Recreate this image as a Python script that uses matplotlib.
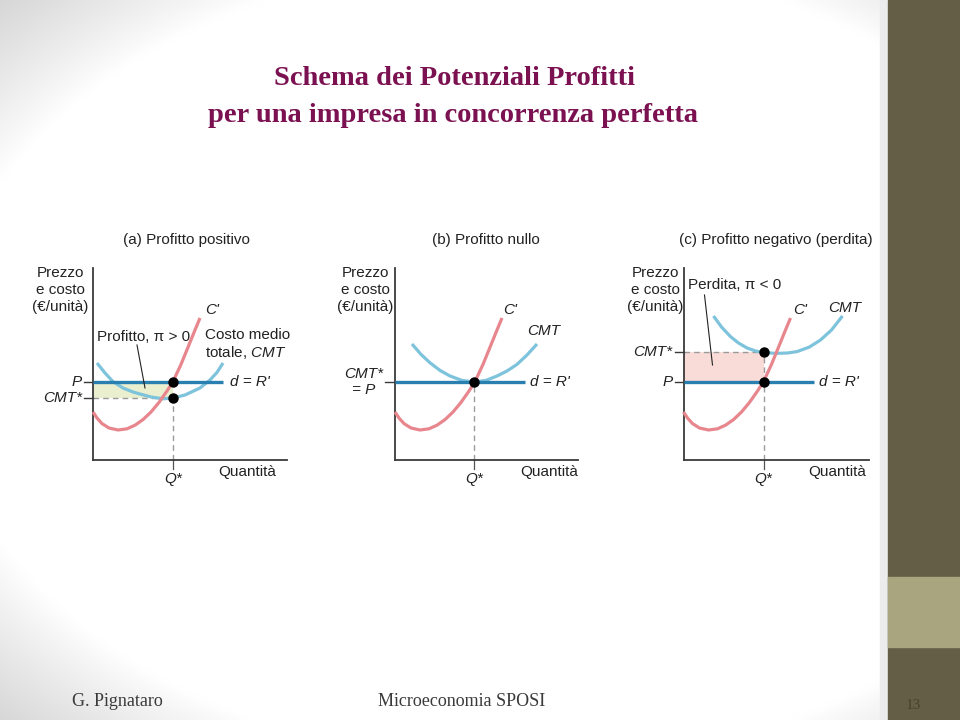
import numpy as np
import matplotlib.pyplot as plt
from matplotlib.patches import Rectangle

plt.rcParams['font.family'] = ['Liberation Sans', 'DejaVu Sans']
plt.rcParams['mathtext.fontset'] = 'custom'
plt.rcParams['mathtext.rm'] = 'Liberation Sans'
plt.rcParams['mathtext.it'] = 'Liberation Sans:italic'

# Marginal cost C' (same curve in all three panels): quantity, cost
cm_q = [0.0, 0.2, 0.45, 0.8, 1.25, 1.7, 2.1, 2.5, 2.9, 3.3, 3.7, 4.0, 4.4, 4.8, 5.1, 5.35]
cm_p = [2.4, 2.1, 1.82, 1.6, 1.5, 1.56, 1.74, 2.02, 2.4, 2.88, 3.45, 3.92, 4.78, 5.76, 6.5, 7.1]

# Average total cost CMT for each panel
cmt_a_q = [0.2, 0.6, 1.0, 1.5, 2.0, 2.35, 2.9, 3.5, 4.0, 4.6, 5.35, 5.85, 6.2, 6.5]
cmt_a_p = [4.85, 4.35, 3.92, 3.6, 3.4, 3.3, 3.15, 3.06, 3.1, 3.25, 3.6, 4.0, 4.38, 4.85]

cmt_b_q = [0.85, 1.3, 1.75, 2.25, 2.75, 3.35, 3.95, 4.55, 5.1, 5.6, 6.1, 6.6, 7.1]
cmt_b_p = [5.8, 5.28, 4.86, 4.48, 4.2, 3.98, 3.9, 3.98, 4.2, 4.45, 4.78, 5.25, 5.8]

cmt_c_q = [1.5, 1.9, 2.35, 2.75, 3.18, 3.6, 4.0, 4.6, 5.2, 5.68, 6.3, 6.85, 7.4, 7.95]
cmt_c_p = [7.2, 6.65, 6.17, 5.85, 5.6, 5.45, 5.38, 5.33, 5.35, 5.42, 5.65, 6.0, 6.5, 7.2]

price = 3.9          # P = d = R'
q_star = [4.0, 3.95, 4.0]
cmt_star_a = 3.1
cmt_star_c = 5.38
d_end = 6.5

titles = ['(a) Profitto positivo', '(b) Profitto nullo', '(c) Profitto negativo (perdita)']

RED = '#e8868e'
LBLUE = '#7ec3dc'
DBLUE = '#2a7fb1'
TXT = '#222222'
GREY = '#9a9a9a'

fig = plt.figure(figsize=(9.6, 7.2), dpi=100)

# slide background: white, greying towards the left corners
bg = fig.add_axes([0, 0, 1, 1], zorder=-10)
yy, xx = np.mgrid[0:720:4, 0:960:4]
d = np.sqrt(((xx - 520) / 520.0) ** 2 + ((yy - 360) / 360.0) ** 2)
shade = 1 - 0.16 * np.clip((d - 1.12) / 0.3, 0, 1) ** 0.9
bg.imshow(np.dstack([shade] * 3), extent=[0, 960, 720, 0], aspect='auto', interpolation='bilinear')
bg.set_xlim(0, 960)
bg.set_ylim(720, 0)
bg.axis('off')

# white picture area, right colour band
bg.add_patch(Rectangle((33, 222), 845, 270, color='white', zorder=2))
bg.add_patch(Rectangle((880, 0), 8, 720, color='#ececec', zorder=2))
bg.add_patch(Rectangle((888, 0), 72, 720, color='#655e47', zorder=3))
bg.add_patch(Rectangle((888, 577), 72, 70, color='#a9a57f', zorder=4))

# slide title and footer
title_kw = dict(ha='center', va='baseline', fontsize=20.5, fontweight='bold',
                color='#7b1151', family='Liberation Serif')
fig.text(455 / 960, 1 - 85 / 720, 'Schema dei Potenziali Profitti', **title_kw)
fig.text(453 / 960, 1 - 122 / 720, 'per una impresa in concorrenza perfetta', **title_kw)
foot_kw = dict(va='baseline', fontsize=13, color='#3a3a3a', family='Liberation Serif')
fig.text(72 / 960, 1 - 706 / 720, 'G. Pignataro', **foot_kw)
fig.text(378 / 960, 1 - 706 / 720, 'Microeconomia SPOSI', **foot_kw)
fig.text(906 / 960, 1 - 709 / 720, '13', fontsize=11, color='#47422f',
         family='Liberation Serif', va='baseline')

origins = [93, 395, 683.5]
xmaxs = [9.7, 9.15, 9.25]
ymax = 9.6
cmts = [(cmt_a_q, cmt_a_p), (cmt_b_q, cmt_b_p), (cmt_c_q, cmt_c_p)]
ylabel_x = [-1.65, -1.5, -1.4]
title_x = [4.65, 4.55, 4.6]

axes = []
for i in range(3):
    ox = origins[i]
    ax = fig.add_axes([ox / 960, (720 - 460) / 720, xmaxs[i] * 20 / 960, ymax * 20 / 720])
    ax.set_xlim(0, xmaxs[i])
    ax.set_ylim(0, ymax)
    ax.patch.set_alpha(0)
    for s in ['top', 'right']:
        ax.spines[s].set_visible(False)
    for s in ['left', 'bottom']:
        ax.spines[s].set_color('#3a3a3a')
        ax.spines[s].set_linewidth(1.3)
    ax.set_xticks([])
    ax.set_yticks([])

    qs = q_star[i]
    ax.plot(cmts[i][0], cmts[i][1], color=LBLUE, lw=2.3, zorder=3, clip_on=False,
            solid_capstyle='butt')
    ax.plot([0, d_end], [price, price], color=DBLUE, lw=2.4, zorder=4, clip_on=False,
            solid_capstyle='butt')
    ax.plot(cm_q, cm_p, color=RED, lw=2.3, zorder=5, clip_on=False, solid_capstyle='butt')

    ax.text(title_x[i], 11.0, titles[i], ha='center', va='center', fontsize=11, color=TXT)
    ax.text(ylabel_x[i], 8.5, 'Prezzo\ne costo\n(€/unità)', ha='center', va='center',
            fontsize=11, color=TXT, linespacing=1.3, multialignment='center')
    ax.text(6.25, -0.62, 'Quantità', ha='left', va='center', fontsize=11, color=TXT)
    ax.text(qs, -0.95, 'Q*', ha='center', va='center', fontsize=11, color=TXT, style='italic')
    ax.plot([qs, qs], [0, -0.45], color='#555555', lw=0.9, clip_on=False)
    ax.text(6.85 if i == 0 else 6.75, price, "d = R'", ha='left', va='center', fontsize=11,
            color=TXT, style='italic')
    axes.append(ax)

# (a) positive profit
ax = axes[0]
ax.fill_between([0, q_star[0]], cmt_star_a, price, color='#eaefd0', zorder=1, lw=0)
ax.plot([0, q_star[0]], [cmt_star_a, cmt_star_a], color=GREY, lw=1, ls=(0, (4, 3)), zorder=2)
ax.plot([q_star[0], q_star[0]], [0, cmt_star_a], color=GREY, lw=1, ls=(0, (4, 3)), zorder=2)
ax.plot([q_star[0]] * 2, [price, cmt_star_a], 'o', color='black', ms=6.5, zorder=6, clip_on=False)
for lvl, lab in [(price, 'P'), (cmt_star_a, 'CMT*')]:
    ax.plot([-0.45, 0], [lvl, lvl], color='#3a3a3a', lw=1, clip_on=False)
    ax.text(-0.55, lvl, lab, ha='right', va='center', fontsize=11, color=TXT, style='italic')
ax.text(5.6, 7.5, "C'", ha='left', va='center', fontsize=11, color=TXT, style='italic')
ax.text(0.2, 6.15, 'Profitto, π > 0', ha='left', va='center', fontsize=11, color=TXT)
ax.plot([2.2, 2.6], [5.75, 3.6], color='#222222', lw=0.8, zorder=6)
ax.text(5.6, 5.78, 'Costo medio\ntotale, $\\mathit{CMT}$', ha='left', va='center',
        fontsize=11, color=TXT, linespacing=1.1)

# (b) zero profit
ax = axes[1]
ax.plot([q_star[1], q_star[1]], [0, price], color=GREY, lw=1, ls=(0, (4, 3)), zorder=2)
ax.plot([q_star[1]], [price], 'o', color='black', ms=6.5, zorder=6, clip_on=False)
ax.plot([-0.5, 0], [price, price], color='#3a3a3a', lw=1, clip_on=False)
ax.text(-1.55, price, 'CMT*\n= P', ha='center', va='center', fontsize=11, color=TXT,
        style='italic', linespacing=1.2)
ax.text(5.4, 7.5, "C'", ha='left', va='center', fontsize=11, color=TXT, style='italic')
ax.text(6.6, 6.45, 'CMT', ha='left', va='center', fontsize=11, color=TXT, style='italic')

# (c) negative profit (loss)
ax = axes[2]
ax.fill_between([0, q_star[2]], price, cmt_star_c, color='#f9dcd7', zorder=1, lw=0)
ax.plot([0, q_star[2]], [cmt_star_c, cmt_star_c], color=GREY, lw=1, ls=(0, (4, 3)), zorder=2)
ax.plot([q_star[2], q_star[2]], [0, cmt_star_c], color=GREY, lw=1, ls=(0, (4, 3)), zorder=2)
ax.plot([q_star[2]] * 2, [price, cmt_star_c], 'o', color='black', ms=6.5, zorder=6, clip_on=False)
for lvl, lab in [(price, 'P'), (cmt_star_c, 'CMT*')]:
    ax.plot([-0.45, 0], [lvl, lvl], color='#3a3a3a', lw=1, clip_on=False)
    ax.text(-0.55, lvl, lab, ha='right', va='center', fontsize=11, color=TXT, style='italic')
ax.text(5.5, 7.5, "C'", ha='left', va='center', fontsize=11, color=TXT, style='italic')
ax.text(7.25, 7.6, 'CMT', ha='left', va='center', fontsize=11, color=TXT, style='italic')
ax.text(0.2, 8.75, 'Perdita, π < 0', ha='left', va='center', fontsize=11, color=TXT)
ax.plot([1.05, 1.45], [8.25, 4.75], color='#222222', lw=0.8, zorder=6)

fig.savefig('out.png', dpi=100)
